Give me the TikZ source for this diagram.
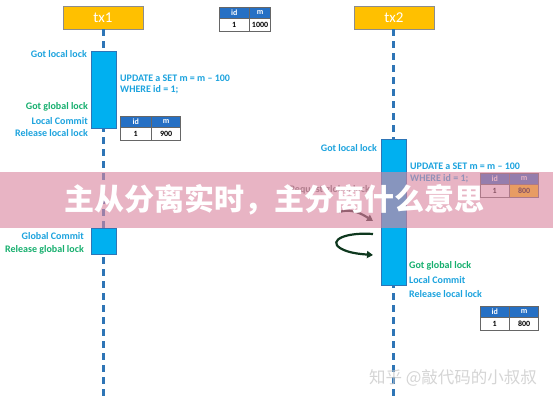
\documentclass[tikz,border=0pt]{standalone}
\usepackage{fontspec}
\setmainfont{Carlito}
\newfontfamily\cjk{Noto Sans CJK SC}
\usetikzlibrary{arrows.meta}
\definecolor{lifeblue}{RGB}{46,117,182}
\definecolor{actblue}{RGB}{0,176,240}
\definecolor{txgold}{RGB}{255,192,0}
\definecolor{cyantxt}{RGB}{28,163,222}
\definecolor{greentxt}{RGB}{22,175,110}
\definecolor{hdrblue}{RGB}{38,112,196}
\definecolor{bandpink}{RGB}{218,134,160}
\definecolor{darkgreen}{RGB}{14,56,30}
\definecolor{reqgray}{RGB}{110,110,110}
\newcommand\mytable[7]{%
  \node[hdr, minimum width=#4, anchor=north west] (#1id) at (#2,#3) {id};
  \node[hdr, minimum width=#5, anchor=north west] (#1m) at (#1id.north east) {m};
  \node[cell, minimum width=#4, anchor=north west] (#1v1) at (#1id.south west) {1};
  \node[cell, fill=#7, minimum width=#5, anchor=north west] (#1v2) at (#1v1.north east) {#6};
}
\begin{document}
\begin{tikzpicture}[x=1pt,y=-1pt,
  txbox/.style={draw=black!45, fill=txgold, text=white, minimum width=80pt, minimum height=23pt,
    inner sep=0pt, font=\fontsize{15}{16}\selectfont},
  actbox/.style={draw=lifeblue, fill=actblue, minimum width=25pt, inner sep=0pt, line width=0.5pt},
  lifeline/.style={draw=lifeblue, line width=3pt, dash pattern=on 7pt off 5pt},
  lbl/.style={inner sep=0pt, font=\fontsize{10}{11}\selectfont\bfseries},
  cy/.style={lbl, text=cyantxt},
  gr/.style={lbl, text=greentxt},
  hdr/.style={draw=black!60, fill=hdrblue, text=white, minimum height=11pt, inner sep=0pt,
    font=\fontsize{8}{9}\selectfont\bfseries},
  cell/.style={draw=black!60, text=black, minimum height=13pt, inner sep=0pt,
    font=\fontsize{8}{9}\selectfont\bfseries},
  curvearrow/.style={line width=2.2pt, -{Triangle[length=6pt,width=7pt]}}
]
\useasboundingbox (0,0) rectangle (553,400);
\fill[white] (0,0) rectangle (553,400);

% headers
\node[txbox] (tx1) at (103,17.5) {tx1};
\node[txbox] (tx2) at (394,17.5) {tx2};

% lifelines
\coordinate (l1end) at (103,402);
\coordinate (l2end) at (393,402);
\draw[lifeline] (tx1.south) -- (l1end);
\draw[lifeline] ([xshift=-1pt]tx2.south) -- (l2end);

% tx1 activations
\node[actbox, minimum height=77pt, anchor=north] (a1) at (103.5,51) {};
\node[actbox, minimum height=26pt, anchor=north] (a2) at (103.5,228) {};

% tx2 activation
\node[actbox, minimum height=146pt, anchor=north] (a3) at (394,139) {};

% tx1 labels
\node[cy, anchor=east] (l1) at (87,54) {Got local lock};
\node[gr, anchor=east] (l2) at (88,107) {Got global lock};
\node[cy, anchor=east] (l3) at (88,121) {Local Commit};
\node[cy, anchor=east] (l4) at (88,133) {Release local lock};
\node[cy, anchor=west, align=left, font=\fontsize{10}{11.5}\selectfont\bfseries] (u1) at (120,84.5)
  {UPDATE a SET m = m -- 100\\WHERE id = 1;};
\node[cy, anchor=east] (l5) at (84,236) {Global Commit};
\node[gr, anchor=east] (l6) at (84,250) {Release global lock};

% tx2 labels
\node[cy, anchor=east] (m1) at (377,148) {Got local lock};
\node[cy, anchor=west, align=left, font=\fontsize{10}{11.5}\selectfont\bfseries] (u2) at (410,173)
  {UPDATE a SET m = m -- 100\\WHERE id = 1;};
\node[lbl, text=reqgray, anchor=east] (req) at (370,190) {Request global lock};
\node[gr, anchor=west] (m2) at (409,266) {Got global lock};
\node[cy, anchor=west] (m3) at (409,280) {Local Commit};
\node[cy, anchor=west] (m4) at (409,294) {Release local lock};

% tables
\mytable{ta}{219}{7}{30pt}{21pt}{1000}{white}
\mytable{tb}{120}{116}{31pt}{29pt}{900}{white}
\mytable{tc}{480}{173}{29pt}{29pt}{800}{txgold}
\mytable{td}{480}{306}{29pt}{29pt}{800}{white}

% curved arrows
\coordinate (c1s) at (339,212);
\coordinate (c1e) at (373,221);
\draw[curvearrow, black!85] (c1s) .. controls (352,208) and (362,214) .. (c1e);
\coordinate (c2s) at (373,234);
\coordinate (c2e) at (373,255);
\draw[curvearrow, darkgreen] (c2s) .. controls (346,232) and (328,240) .. (340,248)
  .. controls (348,253) and (360,254) .. (c2e);

% overlay band
\fill[bandpink, opacity=0.62] (0,172) rectangle (553,228);
\node[text=white, font=\cjk\bfseries\fontsize{30}{30}\selectfont, inner sep=0pt] (title) at (274,200)
  {主从分离实时，主分离什么意思};

% watermark
\node[text=black!22, opacity=0.75, font=\cjk\fontsize{16.5}{17}\selectfont, inner sep=0pt] (wm) at (453,378)
  {知乎 @敲代码的小叔叔};
\end{tikzpicture}
\end{document}
